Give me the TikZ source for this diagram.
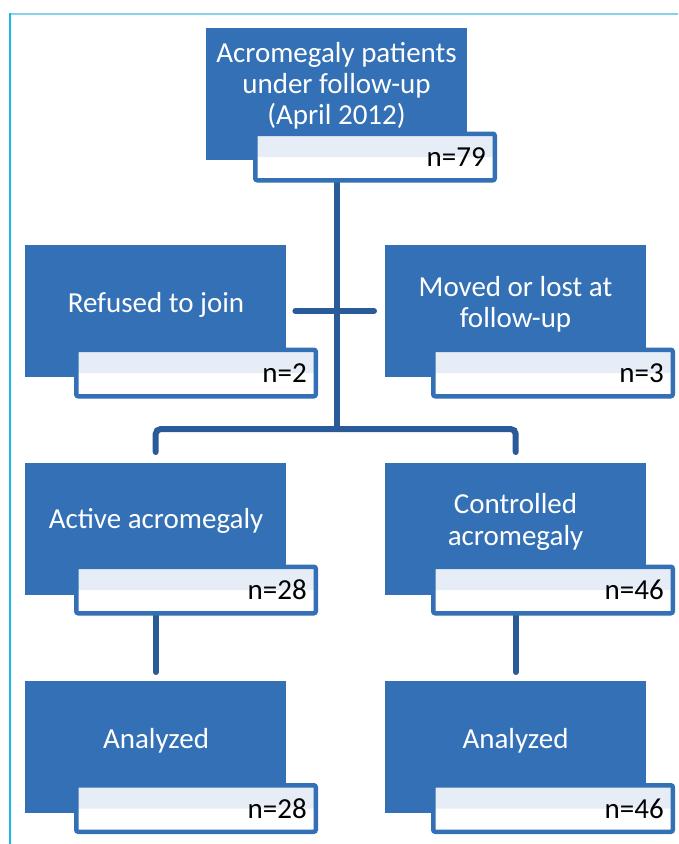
\documentclass[tikz,border=0pt]{standalone}
\usepackage{fontspec}
\setmainfont{Carlito}
\usetikzlibrary{calc}
\definecolor{boxblue}{HTML}{3370B5}
\definecolor{linkblue}{HTML}{2A5B99}
\definecolor{bandblue}{HTML}{E7EDF6}
\definecolor{frametop}{HTML}{86D2EA}
\definecolor{frameleft}{HTML}{20B4E8}
\pgfdeclarelayer{bg}
\pgfdeclarelayer{paper}
\pgfsetlayers{paper,bg,main}
\begin{document}
\begin{tikzpicture}[x=1pt,y=-1pt,
  bluebox/.style={fill=boxblue, draw=none, minimum width=261pt, minimum height=132pt, inner sep=0pt, anchor=north west},
  nbox/.style={draw=boxblue, line width=4.5pt, fill=white, rounded corners=2pt,
    minimum width=239.5pt, minimum height=46.5pt, inner sep=0pt,
    path picture={\fill[bandblue] (path picture bounding box.north west) rectangle (path picture bounding box.east);}},
  maintext/.style={text=white, font=\fontsize{29}{31.2}\selectfont, align=center, inner sep=0pt},
  ntext/.style={text=black, font=\fontsize{29}{31.2}\selectfont, inner sep=0pt, anchor=base east},
  link/.style={draw=linkblue, line width=6pt, line cap=round}
]
\useasboundingbox (0,0) rectangle (678,844);
\begin{pgfonlayer}{paper}
\fill[white] (0,0) rectangle (678,844);
\end{pgfonlayer}
% frame
\draw[frametop, line width=2pt] (9,14) -- (678,14);
\draw[frameleft, line width=1.5pt] (10,13) -- (10,844);

% row 1
\node[bluebox] (top) at (206,28) {};
\node[nbox] (topn) at (375,157) {};
\node[maintext] (ttop) at (336.5,86) {Acromegaly patients\\under follow-up\\(April 2012)};
\node[ntext] (ntop) at ([xshift=-11pt,yshift=-9.5pt]topn.east) {n=79};

% row 2
\node[bluebox] (refused) at (25,245) {};
\node[nbox] (refusedn) at (196,373) {};
\node[maintext] (trefused) at (156,305) {Refused to join};
\node[ntext] (nrefused) at ([xshift=-11pt,yshift=-9.5pt]refusedn.east) {n=2};

\node[bluebox] (moved) at (385,245) {};
\node[nbox] (movedn) at (553,373) {};
\node[maintext] (tmoved) at (515.5,304) {Moved or lost at\\follow-up};
\node[ntext] (nmoved) at ([xshift=-11pt,yshift=-9.5pt]movedn.east) {n=3};

% row 3
\node[bluebox] (active) at (25,463) {};
\node[nbox] (activen) at (196,590) {};
\node[maintext] (tactive) at (156,521) {Active acromegaly};
\node[ntext] (nactive) at ([xshift=-11pt,yshift=-9.5pt]activen.east) {n=28};

\node[bluebox] (controlled) at (385,463) {};
\node[nbox] (controlledn) at (553,590) {};
\node[maintext] (tcontrolled) at (515.5,522) {Controlled\\acromegaly};
\node[ntext] (ncontrolled) at ([xshift=-11pt,yshift=-9.5pt]controlledn.east) {n=46};

% row 4
\node[bluebox] (anaL) at (25,681) {};
\node[nbox] (anaLn) at (196,808.5) {};
\node[maintext] (tanaL) at (156,741) {Analyzed};
\node[ntext] (nanaL) at ([xshift=-11pt,yshift=-9.5pt]anaLn.east) {n=28};

\node[bluebox] (anaR) at (385,681) {};
\node[nbox] (anaRn) at (553,808.5) {};
\node[maintext] (tanaR) at (515.5,741) {Analyzed};
\node[ntext] (nanaR) at ([xshift=-11pt,yshift=-9.5pt]anaRn.east) {n=46};

% connectors
\coordinate (barlevel) at (0,429);
\coordinate (crossy) at (0,311);
\coordinate (hub) at (top.center |- barlevel);
\begin{pgfonlayer}{bg}
\draw[link] (top.center |- topn.center) -- (hub);
\draw[link] ([xshift=9pt]refused.east |- crossy) -- ([xshift=-11pt]moved.west |- crossy);
\draw[link, rounded corners=5pt] ([yshift=11pt]active.north) |- (hub) -| ([yshift=11pt]controlled.north);
\draw[link] (active.center |- activen.center) -- ([yshift=9pt]anaL.north);
\draw[link] (controlled.center |- controlledn.center) -- ([yshift=9pt]anaR.north);
\end{pgfonlayer}
\end{tikzpicture}
\end{document}
